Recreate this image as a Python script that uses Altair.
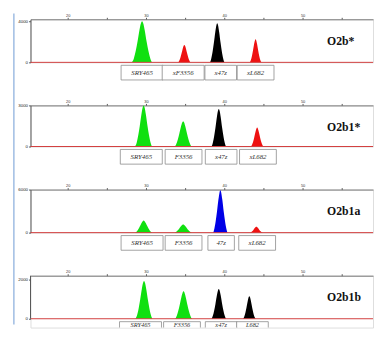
import altair as alt
import pandas as pd

# ---- values ----
panel_names = ["O2b*", "O2b1*", "O2b1a", "O2b1b"]
marker_labels = [
    ["SRY465", "xF3356", "x47z", "xL682"],
    ["SRY465", "F3356", "x47z", "xL682"],
    ["SRY465", "F3356", "47z", "xL682"],
    ["SRY465", "F3356", "x47z", "L682"],
]
peak_pos = [
    [29.5, 34.9, 39.1, 44.0],
    [29.7, 34.75, 39.3, 44.2],
    [29.7, 34.75, 39.5, 44.1],
    [29.75, 34.8, 39.3, 43.2],
]
peak_height = [
    [4000, 1700, 3800, 2250],
    [3000, 1850, 2740, 1380],
    [1680, 1130, 5900, 820],
    [1930, 1400, 1515, 1150],
]
peak_dye = [
    ["green", "red", "black", "red"],
    ["green", "green", "black", "red"],
    ["green", "green", "blue", "red"],
    ["green", "green", "black", "black"],
]
# half width of each peak at its base (size units)
peak_halfwidth = [
    [1.3, 0.8, 0.95, 0.75],
    [1.1, 1.1, 0.95, 0.8],
    [1.1, 1.1, 0.95, 0.8],
    [1.1, 1.1, 0.95, 0.8],
]
label_pos = [
    [29.5, 34.75, 39.55, 44.0],
    [29.4, 34.8, 39.6, 44.3],
    [29.5, 34.8, 39.6, 44.2],
    [29.3, 34.6, 39.6, 43.6],
]
y_max = [4190, 3000, 6000, 2200]
y_min = [0, 0, 0, -450]
y_ticks = [
    [0, 1000, 2000, 3000, 4000],
    [0, 1000, 2000, 3000],
    [0, 2000, 4000, 6000],
    [0, 400, 800, 1200, 1600, 2000],
]
x_ticks = [20, 25, 30, 35, 40, 45, 50, 55]
x_domain = [15.25, 59.0]
# normalised peak profile
profile_dx = [-1.0, -0.8, -0.62, -0.45, -0.26, -0.11, 0.0, 0.11, 0.26, 0.45, 0.62, 0.8, 1.0]
profile_fr = [0.0, 0.1, 0.28, 0.5, 0.78, 0.95, 1.0, 0.95, 0.78, 0.5, 0.28, 0.1, 0.0]

dye_names = ["green", "red", "black", "blue"]
dye_colors = ["#10e010", "#ee1111", "#000000", "#0000e6"]

heights = [44, 42, 44, 53]   # view heights (last one runs to the page edge)
plot_h = [44, 42, 44, 44]    # height down to the baseline
W = 350


def panel(i):
    h = heights[i]
    hb = plot_h[i]
    last = y_min[i] < 0
    rows = []
    for k in range(4):
        for dx, fr in zip(profile_dx, profile_fr):
            rows.append({
                "x": peak_pos[i][k] + dx * peak_halfwidth[i][k],
                "y": fr * peak_height[i][k],
                "peak": k,
                "dye": peak_dye[i][k],
            })
    df = pd.DataFrame(rows)
    labs = pd.DataFrame({"c": label_pos[i], "text": marker_labels[i]})
    labs["lo"] = labs["c"] - (0.33 * labs["text"].str.len() + 0.7)
    labs["hi"] = labs["c"] + (0.33 * labs["text"].str.len() + 0.7)

    xs = alt.Scale(domain=x_domain, nice=False, zero=False)
    ys = alt.Scale(domain=[y_min[i], y_max[i]], nice=False, zero=False)

    area = alt.Chart(df).mark_area(interpolate="monotone").encode(
        x=alt.X("x:Q", scale=xs, axis=alt.Axis(
            orient="top", values=x_ticks, title=None,
            labelExpr="datum.value % 10 === 0 ? datum.label : ''",
            labelFontSize=4, labelPadding=0, tickSize=2, labelOverlap=False,
            labelFont="Liberation Sans",
            domainColor="#777", tickColor="#555", labelColor="#333",
            grid=False)),
        y=alt.Y("y:Q", scale=ys, axis=alt.Axis(
            values=y_ticks[i], title=None,
            labelFontSize=4.5, labelPadding=1, tickSize=2, labelOverlap=False,
            labelFont="Liberation Sans", domain=not last,
            domainColor="#555", tickColor="#555", labelColor="#222",
            format="d", grid=False)),
        color=alt.Color("dye:N", scale=alt.Scale(domain=dye_names, range=dye_colors), legend=None),
        detail="peak:N",
    )
    base = alt.Chart(pd.DataFrame({"y": [0]})).mark_rule(
        color="#d23c3c", strokeWidth=1
    ).encode(y=alt.Y("y:Q", scale=ys))
    boxes = alt.Chart(labs).mark_rect(
        fill="white", stroke="#8a8a8a", strokeWidth=0.8, clip=last
    ).encode(
        x=alt.X("lo:Q", scale=xs), x2="hi:Q",
        y=alt.value(hb + 3), y2=alt.value(hb + 18),
    )
    texts = alt.Chart(labs).mark_text(
        font="Liberation Serif", fontStyle="italic",
        fontSize=6.5 if last else 7, color="#333", clip=last
    ).encode(
        x=alt.X("c:Q", scale=xs), y=alt.value(hb + (6.3 if last else 10.5)), text="text:N",
    )
    title = alt.Chart(pd.DataFrame({"t": [panel_names[i]]})).mark_text(
        font="Liberation Serif", fontWeight="bold", fontSize=12, align="left",
        baseline="middle", color="#111"
    ).encode(x=alt.value(303), y=alt.value(22), text="t:N")

    layers = [area, base, boxes, texts, title]
    if last:
        axis_line = alt.Chart(pd.DataFrame({"x": [x_domain[0]], "y0": [0], "y1": [y_max[i]]})).mark_rule(
            color="#555", strokeWidth=1
        ).encode(x=alt.X("x:Q", scale=xs), y=alt.Y("y0:Q", scale=ys), y2="y1:Q")
        layers.append(axis_line)
    if i == 0:
        frame_v = alt.Chart(pd.DataFrame({"a": [0]})).mark_rule(
            color="#9dbbe2", strokeWidth=1.5
        ).encode(x=alt.value(-17), y=alt.value(-6), y2=alt.value(312))
        layers = [frame_v] + layers
    return alt.layer(*layers).properties(width=W, height=h)


chart = alt.vconcat(
    *[panel(i) for i in range(4)], spacing=44, bounds="flush"
).resolve_scale(x="independent", y="independent", color="shared").properties(
    padding={"left": 4, "top": 0, "right": 0, "bottom": 0}
).configure_view(stroke=None).configure_axis(
    labelOverlap=False, labelFlush=False, labelBound=False
).configure(background="white")

chart.save("out.html", embed_options={"renderer": "svg", "actions": False})
